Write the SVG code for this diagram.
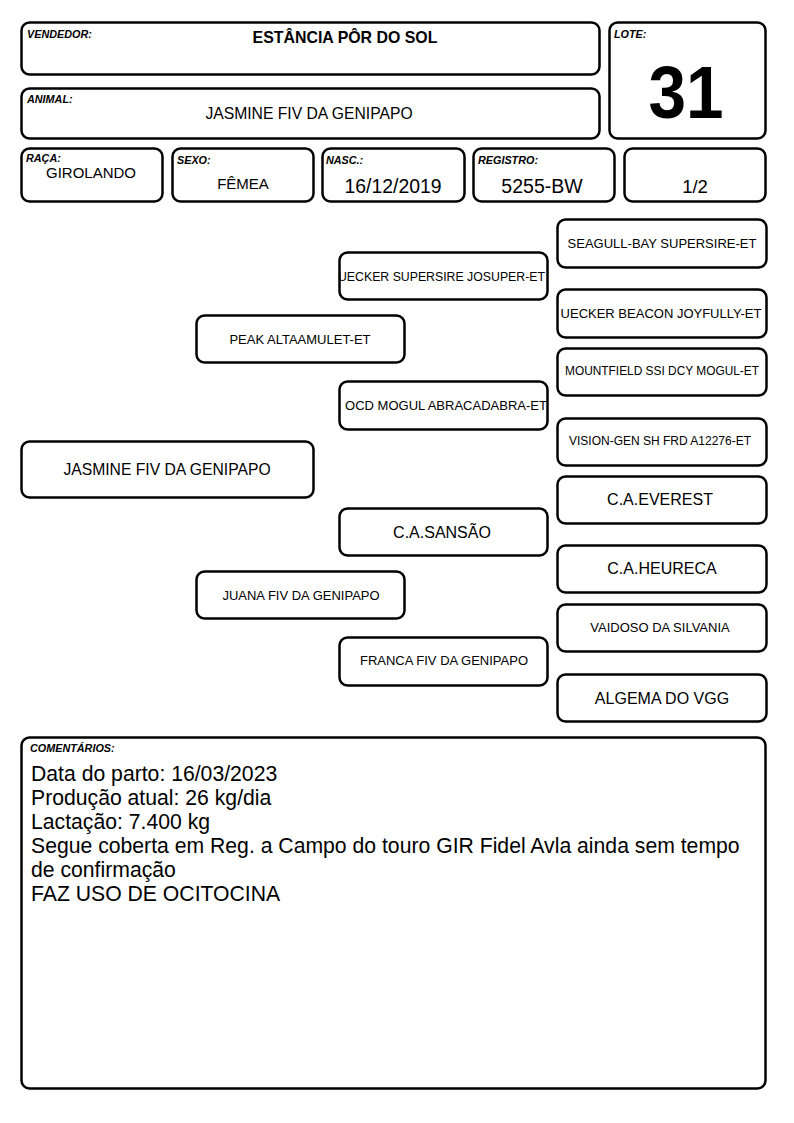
<svg xmlns="http://www.w3.org/2000/svg" width="794" height="1123" viewBox="0 0 794 1123">
<style>
.b{fill:#fff;stroke:#000;stroke-width:2.5}
.lb{font-family:"Liberation Sans",Arial,sans-serif;font-weight:bold;font-style:italic;font-size:10.8px;fill:#000}
.t{font-family:"Liberation Sans",Arial,sans-serif;fill:#000;text-anchor:middle}
.c{font-family:"Liberation Sans",Arial,sans-serif;fill:#000;font-size:21.2px}
</style>
<rect width="794" height="1123" fill="#fff"/>
<g id="vendedor"><rect class="b" x="21.5" y="22.5" width="578" height="52" rx="8"/><text class="lb" x="27" y="38">VENDEDOR:</text><text class="t" x="345" y="43" font-size="15.9" font-weight="bold">ESTÂNCIA PÔR DO SOL</text></g>
<g id="animal"><rect class="b" x="21.5" y="88.5" width="578" height="50" rx="8"/><text class="lb" x="27" y="103">ANIMAL:</text><text class="t" x="309" y="119" font-size="15.7">JASMINE FIV DA GENIPAPO</text></g>
<g id="lote"><rect class="b" x="609.5" y="22.5" width="156" height="116" rx="8"/><text class="lb" x="614" y="38">LOTE:</text><text class="t" transform="translate(686 118) scale(0.9 1)" x="0" y="0" font-size="75" font-weight="bold">31</text></g>
<g id="raca"><rect class="b" x="21.5" y="148.5" width="141" height="53" rx="8"/><text class="lb" x="26" y="162">RAÇA:</text><text class="t" x="91" y="178" font-size="15">GIROLANDO</text></g>
<g id="sexo"><rect class="b" x="172.5" y="148.5" width="141" height="53" rx="8"/><text class="lb" x="177" y="164">SEXO:</text><text class="t" x="243" y="189" font-size="15">FÊMEA</text></g>
<g id="nasc"><rect class="b" x="322.5" y="148.5" width="142" height="53" rx="8"/><text class="lb" x="326" y="164">NASC.:</text><text class="t" x="393" y="193" font-size="19.4">16/12/2019</text></g>
<g id="registro"><rect class="b" x="473.5" y="148.5" width="141" height="53" rx="8"/><text class="lb" x="478" y="164">REGISTRO:</text><text class="t" x="542" y="193" font-size="19.5">5255-BW</text></g>
<g id="fracao"><rect class="b" x="624.5" y="148.5" width="141" height="53" rx="8"/><text class="t" x="695" y="193" font-size="18.5">1/2</text></g>
<g id="connectors"></g>
<g id="n-seagull"><rect class="b" x="557.5" y="219.5" width="209" height="48" rx="8"/><text class="t" x="662" y="248" font-size="13">SEAGULL-BAY SUPERSIRE-ET</text></g>
<g id="n-uecker-josuper"><rect class="b" x="339.5" y="252.5" width="208" height="47" rx="8"/><text class="t" x="441.5" y="281" font-size="12.3">UECKER SUPERSIRE JOSUPER-ET</text></g>
<g id="n-uecker-beacon"><rect class="b" x="557.5" y="289.5" width="209" height="48" rx="8"/><text class="t" x="661" y="318" font-size="13">UECKER BEACON JOYFULLY-ET</text></g>
<g id="n-peak"><rect class="b" x="196.5" y="315.5" width="208" height="47" rx="8"/><text class="t" x="300" y="344" font-size="13">PEAK ALTAAMULET-ET</text></g>
<g id="n-mountfield"><rect class="b" x="557.5" y="348.5" width="209" height="47" rx="8"/><text class="t" x="662" y="375" font-size="11.9">MOUNTFIELD SSI DCY MOGUL-ET</text></g>
<g id="n-ocd"><rect class="b" x="339.5" y="381.5" width="208" height="48" rx="8"/><text class="t" x="446" y="410" font-size="13">OCD MOGUL ABRACADABRA-ET</text></g>
<g id="n-vision"><rect class="b" x="557.5" y="418.5" width="209" height="47" rx="8"/><text class="t" x="660" y="445" font-size="12">VISION-GEN SH FRD A12276-ET</text></g>
<g id="n-jasmine"><rect class="b" x="21.5" y="441.5" width="292" height="56" rx="8"/><text class="t" x="167" y="475" font-size="15.7">JASMINE FIV DA GENIPAPO</text></g>
<g id="n-everest"><rect class="b" x="557.5" y="476.5" width="209" height="47" rx="8"/><text class="t" x="660" y="505" font-size="16">C.A.EVEREST</text></g>
<g id="n-sansao"><rect class="b" x="339.5" y="508.5" width="208" height="47" rx="8"/><text class="t" x="442" y="538" font-size="16">C.A.SANSÃO</text></g>
<g id="n-heureca"><rect class="b" x="557.5" y="545.5" width="209" height="47" rx="8"/><text class="t" x="662" y="574" font-size="16">C.A.HEURECA</text></g>
<g id="n-juana"><rect class="b" x="196.5" y="571.5" width="208" height="47" rx="8"/><text class="t" x="301" y="600" font-size="13">JUANA FIV DA GENIPAPO</text></g>
<g id="n-vaidoso"><rect class="b" x="557.5" y="604.5" width="209" height="47" rx="8"/><text class="t" x="660" y="632" font-size="13">VAIDOSO DA SILVANIA</text></g>
<g id="n-franca"><rect class="b" x="339.5" y="637.5" width="208" height="48" rx="8"/><text class="t" x="444" y="665" font-size="13">FRANCA FIV DA GENIPAPO</text></g>
<g id="n-algema"><rect class="b" x="557.5" y="674.5" width="209" height="47" rx="8"/><text class="t" x="662" y="704" font-size="16">ALGEMA DO VGG</text></g>
<g id="comentarios"><rect class="b" x="21.5" y="737.5" width="744" height="351" rx="8"/><text class="lb" x="30" y="752" font-size="10">COMENTÁRIOS:</text>
<text class="c" x="31" y="781">Data do parto: 16/03/2023</text>
<text class="c" x="31" y="805">Produção atual: 26 kg/dia</text>
<text class="c" x="31" y="829">Lactação: 7.400 kg</text>
<text class="c" x="31" y="853">Segue coberta em Reg. a Campo do touro GIR Fidel Avla ainda sem tempo</text>
<text class="c" x="31" y="877">de confirmação</text>
<text class="c" x="31" y="901">FAZ USO DE OCITOCINA</text></g>
</svg>
